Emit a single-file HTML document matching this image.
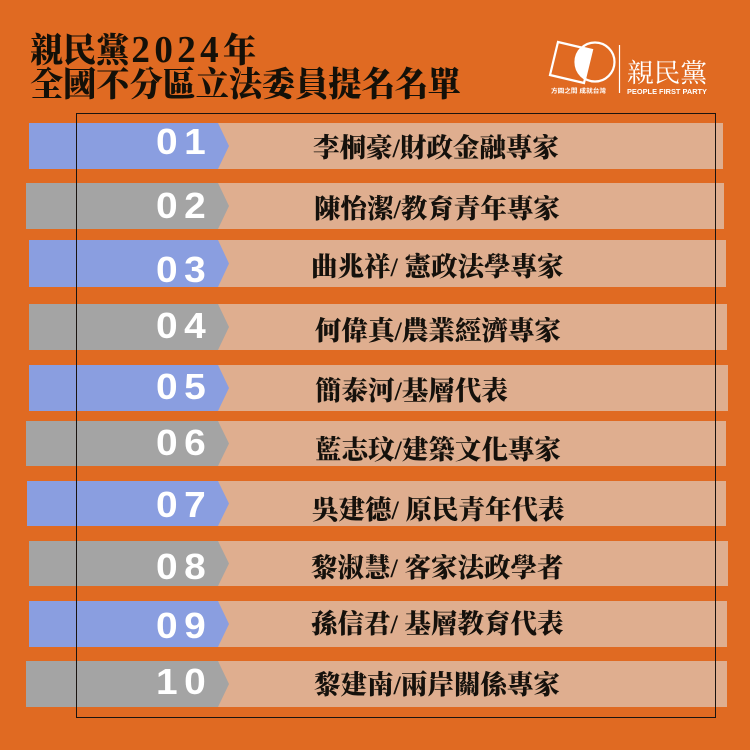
<!DOCTYPE html>
<html><head><meta charset="utf-8">
<style>
html,body{margin:0;padding:0}
body{width:750px;height:750px;background:#E06A22;position:relative;overflow:hidden}
.t{position:absolute;left:30px;font-family:"Liberation Serif","Noto Serif CJK TC","Noto Serif CJK SC",serif;font-weight:900;color:#141008;font-size:34px;line-height:34px;letter-spacing:0;white-space:nowrap;transform:scaleX(0.975);transform-origin:left center}
.t .d{font-size:38px;letter-spacing:4.5px;margin-left:2px}
.pe{position:absolute;background:#DFAE8F}
.nb{position:absolute}
.num{position:absolute;left:156px;width:70px;font-family:"Liberation Sans",sans-serif;font-weight:bold;color:#fff;font-size:36px;line-height:36px;letter-spacing:6px;white-space:nowrap;transform:scaleX(1.08);transform-origin:left center}
.nm{position:absolute;font-family:"Liberation Serif","Noto Serif CJK TC","Noto Serif CJK SC",serif;font-weight:900;color:#15110c;font-size:26.5px;line-height:26px;white-space:nowrap}
.frame{position:absolute;left:76px;top:113px;width:638px;height:603px;border:1px solid #1a1410}
</style></head><body>
<div class="t" style="top:33px">親民黨<span class="d">2024</span>年</div>
<div class="t" style="top:69px">全國不分區立法委員提名名單</div>

<svg style="position:absolute;left:0;top:0" width="750" height="110" viewBox="0 0 750 110">
  <defs>
    <clipPath id="sq"><polygon points="558,42 592,50 584,83 550,75"/></clipPath>
  </defs>
  <polygon points="558,42 592,50 584,83 550,75" fill="none" stroke="#fff" stroke-width="2.2"/>
  <circle cx="595" cy="62" r="19.5" fill="none" stroke="#fff" stroke-width="2.2"/>
  <circle cx="595" cy="62" r="19.5" fill="#fff" clip-path="url(#sq)"/>
  <line x1="619.5" y1="45" x2="619.5" y2="93" stroke="#fff" stroke-width="1.2"/>
  <text x="551" y="93" font-family="Liberation Sans,'Noto Sans CJK TC',sans-serif" font-size="6" font-weight="bold" fill="#fff" textLength="55" lengthAdjust="spacingAndGlyphs">方圓之間 成就台灣</text>
  <text x="627" y="82" font-family="'Liberation Serif','Noto Serif CJK TC',serif" font-size="26" fill="#fff" textLength="80" lengthAdjust="spacingAndGlyphs">親民黨</text>
  <text x="627" y="94" font-family="Liberation Sans,sans-serif" font-size="7.5" font-weight="bold" fill="#fff" textLength="80" lengthAdjust="spacingAndGlyphs">PEOPLE FIRST PARTY</text>
</svg>

<!-- rows -->
<div class="pe" style="left:212px;top:123px;width:511px;height:46px"></div>
<div class="nb" style="left:29px;top:123px;width:200px;height:46px;background:#8A9EE0;clip-path:polygon(0 0,189px 0,200px 50%,189px 100%,0 100%)"></div>
<div class="num" style="top:124px">01</div>
<div class="nm" style="left:313px;top:135px">李桐豪/財政金融專家</div>

<div class="pe" style="left:212px;top:183px;width:512px;height:46px"></div>
<div class="nb" style="left:26px;top:183px;width:203px;height:46px;background:#A4A4A4;clip-path:polygon(0 0,192px 0,203px 50%,192px 100%,0 100%)"></div>
<div class="num" style="top:188px">02</div>
<div class="nm" style="left:314px;top:196px">陳怡潔/教育青年專家</div>

<div class="pe" style="left:212px;top:240px;width:514px;height:47px"></div>
<div class="nb" style="left:29px;top:240px;width:200px;height:47px;background:#8A9EE0;clip-path:polygon(0 0,189px 0,200px 50%,189px 100%,0 100%)"></div>
<div class="num" style="top:252px">03</div>
<div class="nm" style="left:311px;top:254px">曲兆祥/ 憲政法學專家</div>

<div class="pe" style="left:212px;top:304px;width:515px;height:46px"></div>
<div class="nb" style="left:29px;top:304px;width:200px;height:46px;background:#A4A4A4;clip-path:polygon(0 0,189px 0,200px 50%,189px 100%,0 100%)"></div>
<div class="num" style="top:308px">04</div>
<div class="nm" style="left:315px;top:318px">何偉真/農業經濟專家</div>

<div class="pe" style="left:212px;top:365px;width:516px;height:46px"></div>
<div class="nb" style="left:29px;top:365px;width:200px;height:46px;background:#8A9EE0;clip-path:polygon(0 0,189px 0,200px 50%,189px 100%,0 100%)"></div>
<div class="num" style="top:369px">05</div>
<div class="nm" style="left:315px;top:378px">簡泰河/基層代表</div>

<div class="pe" style="left:212px;top:421px;width:514px;height:45px"></div>
<div class="nb" style="left:26px;top:421px;width:203px;height:45px;background:#A4A4A4;clip-path:polygon(0 0,192px 0,203px 50%,192px 100%,0 100%)"></div>
<div class="num" style="top:425px">06</div>
<div class="nm" style="left:315px;top:437px">藍志玟/建築文化專家</div>

<div class="pe" style="left:212px;top:481px;width:514px;height:45px"></div>
<div class="nb" style="left:27px;top:481px;width:202px;height:45px;background:#8A9EE0;clip-path:polygon(0 0,191px 0,202px 50%,191px 100%,0 100%)"></div>
<div class="num" style="top:487px">07</div>
<div class="nm" style="left:312px;top:497px">吳建德/ 原民青年代表</div>

<div class="pe" style="left:212px;top:541px;width:516px;height:45px"></div>
<div class="nb" style="left:29px;top:541px;width:200px;height:45px;background:#A4A4A4;clip-path:polygon(0 0,189px 0,200px 50%,189px 100%,0 100%)"></div>
<div class="num" style="top:549px">08</div>
<div class="nm" style="left:311px;top:555px">黎淑慧/ 客家法政學者</div>

<div class="pe" style="left:212px;top:601px;width:515px;height:46px"></div>
<div class="nb" style="left:29px;top:601px;width:200px;height:46px;background:#8A9EE0;clip-path:polygon(0 0,189px 0,200px 50%,189px 100%,0 100%)"></div>
<div class="num" style="top:608px">09</div>
<div class="nm" style="left:311px;top:611px">孫信君/ 基層教育代表</div>

<div class="pe" style="left:212px;top:661px;width:515px;height:46px"></div>
<div class="nb" style="left:26px;top:661px;width:203px;height:46px;background:#A4A4A4;clip-path:polygon(0 0,192px 0,203px 50%,192px 100%,0 100%)"></div>
<div class="num" style="top:664px">10</div>
<div class="nm" style="left:314px;top:672px">黎建南/兩岸關係專家</div>

<div class="frame"></div>
</body></html>
